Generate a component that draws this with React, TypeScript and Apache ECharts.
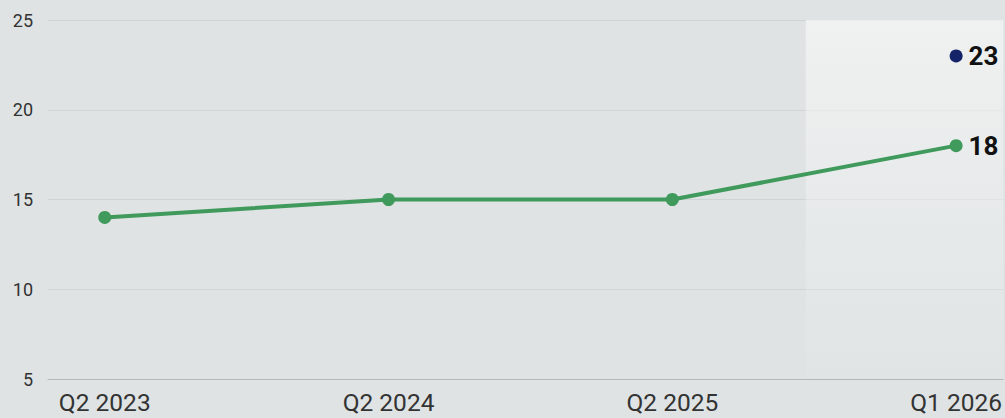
import React, { useEffect, useRef } from "react";
import * as echarts from "echarts";

const categories = ["Q2 2023", "Q2 2024", "Q2 2025", "Q1 2026"];
const actualValues = [14, 15, 15, 18];
const targetIndex = 3;
const targetValue = 23;
const yTicks = [5, 10, 15, 20, 25];

export default function App() {
  const ref = useRef<HTMLDivElement>(null);
  useEffect(() => {
    if (!ref.current) return;
    const chart = echarts.init(ref.current, undefined, { renderer: "svg" });
    const lastLabelIdx = actualValues.length - 1;
    chart.setOption({
      animation: false,
      backgroundColor: "#dfe3e3",
      grid: { left: 48, right: 0, top: 20, bottom: 39, containLabel: false },
      xAxis: {
        type: "value",
        min: -0.2,
        max: 3.166,
        splitLine: { show: false },
        axisTick: { show: false },
        axisLine: { show: true, lineStyle: { color: "#b4b8b8", width: 1 } },
        axisLabel: {
          customValues: categories.map((_, i) => i),
          formatter: (v: number) => categories[Math.round(v)] ?? "",
          color: "#333",
          fontSize: 24.5,
          fontFamily: "Roboto",
          margin: 11,
        },
      },
      yAxis: {
        type: "value",
        min: yTicks[0],
        max: yTicks[yTicks.length - 1],
        interval: 5,
        axisLine: { show: false },
        axisTick: { show: false },
        splitLine: { lineStyle: { color: "#d0d4d4", width: 1 } },
        axisLabel: { color: "#333", fontSize: 18, fontFamily: "Roboto", margin: 15 },
      },
      series: [
        {
          type: "line",
          data: actualValues.map((v, i) => [i, v]),
          symbol: "circle",
          symbolSize: 13,
          itemStyle: { color: "#3f9a5c" },
          lineStyle: { color: "#3f9a5c", width: 4 },
          label: {
            show: true,
            position: "right",
            distance: 6,
            fontSize: 26,
            fontWeight: "bold",
            color: "#111",
            fontFamily: "Roboto",
            formatter: (p: any) => (p.dataIndex === lastLabelIdx ? String(p.value[1]) : ""),
          },
          markArea: {
            silent: true,
            itemStyle: {
              color: {
                type: "linear",
                x: 0, y: 0, x2: 0, y2: 1,
                colorStops: [
                  { offset: 0, color: "rgba(245,246,246,0.75)" },
                  { offset: 1, color: "rgba(245,246,246,0.05)" },
                ],
              },
            },
            data: [[{ xAxis: 2.47, yAxis: 25 }, { xAxis: 3.166, yAxis: 5 }]],
          },
          z: 3,
        },
        {
          type: "scatter",
          data: [[targetIndex, targetValue]],
          symbol: "circle",
          symbolSize: 13,
          itemStyle: { color: "#152468", opacity: 1 },
          label: {
            show: true,
            position: "right",
            distance: 6,
            fontSize: 26,
            fontWeight: "bold",
            color: "#111",
            fontFamily: "Roboto",
            formatter: (p: any) => String(p.value[1]),
          },
          z: 4,
        },
      ],
    });
    return () => chart.dispose();
  }, []);
  return <div ref={ref} style={{ width: 1005, height: 418, position: "absolute", left: 0, top: 0 }} />;
}
